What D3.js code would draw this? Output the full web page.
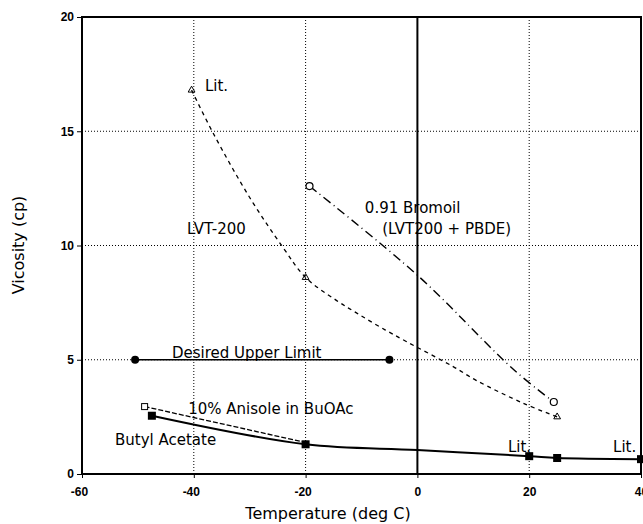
<!DOCTYPE html>
<html>
<head>
<meta charset="utf-8">
<script src="https://cdn.jsdelivr.net/npm/d3@7"></script>
<style>
  body { margin: 0; background: #fff; }
  text { font-family: "DejaVu Sans", sans-serif; fill: #000; }
</style>
</head>
<body>
<div id="graph1"></div>
<script>
// data
const xTicks = [-60, -40, -20, 0, 20, 40];
const yTicks = [0, 5, 10, 15, 20];

// LVT-200 curve
const lvtTemps = [-40.4, -36.5, -30, -24, -20, -14.5, -10.9, -6.8, -2, 6.4, 10.5, 18.9, 25];
const lvtVisc = [16.8, 14.9, 12.1, 9.9, 8.6, 7.6, 7.05, 6.45, 5.8, 4.7, 4.1, 3.1, 2.5];
const lvtMarkTemps = [-40.4, -20, 25];
const lvtMarkVisc = [16.8, 8.6, 2.5];

// 0.91 Bromoil
const bromoilTemps = [-19.3, 0, 17.3, 24.4];
const bromoilVisc = [12.6, 8.7, 4.55, 3.15];
const bromoilMarkTemps = [-19.3, 24.4];
const bromoilMarkVisc = [12.6, 3.15];

// Desired upper limit
const limitTemps = [-50.5, -5];
const limitVisc = [5, 5];

// Butyl acetate
const butylTemps = [-47.5, -20, 0, 20, 25, 40];
const butylVisc = [2.55, 1.3, 1.05, 0.78, 0.7, 0.65];
const butylMarkTemps = [-47.5, -20, 20, 25, 40];
const butylMarkVisc = [2.55, 1.3, 0.78, 0.7, 0.65];

// 10% anisole in BuOAc
const anisoleTemps = [-48.8, -20];
const anisoleVisc = [2.95, 1.38];

// text labels: [text, temp, visc]
const labels = [
    ["Lit.", -38.0, 16.76],
    ["LVT-200", -41.2, 10.5],
    ["0.91 Bromoil", -9.4, 11.42],
    ["(LVT200 + PBDE)", -6.3, 10.5],
    ["Desired Upper Limit", -43.9, 5.08],
    ["10% Anisole in BuOAc", -41.0, 2.63],
    ["Butyl Acetate", -54.1, 1.27],
    ["Lit.", 16.2, 0.96],
    ["Lit.", 35.0, 0.96]
];

const zip = (a, b) => a.map((v, i) => ({ t: v, v: b[i] }));

const svgWidth = 643;
const svgHeight = 524;

const svg = d3.select("#graph1")
    .append("svg")
    .attr("width", svgWidth)
    .attr("height", svgHeight);

const xScale = d3.scaleLinear().domain([-60, 40]).range([82, 641]);
const yScale = d3.scaleLinear().domain([0, 20]).range([474, 17]);

// dotted grid
svg.append("g").selectAll("line")
    .data([-40, -20, 20])
    .join("line")
    .attr("x1", d => xScale(d)).attr("x2", d => xScale(d))
    .attr("y1", yScale(20)).attr("y2", yScale(0))
    .attr("stroke", "#000").attr("stroke-width", 1)
    .attr("stroke-dasharray", "1,2");

svg.append("g").selectAll("line")
    .data([5, 10, 15])
    .join("line")
    .attr("x1", xScale(-60)).attr("x2", xScale(40))
    .attr("y1", d => yScale(d)).attr("y2", d => yScale(d))
    .attr("stroke", "#000").attr("stroke-width", 1)
    .attr("stroke-dasharray", "1,2");

// axes
const xAxis = d3.axisBottom(xScale).tickValues(xTicks).tickSize(4).tickFormat(d => String(d));
const yAxis = d3.axisLeft(yScale).tickValues(yTicks).tickSize(5).tickFormat(d => String(d));

const xAxisGroup = svg.append("g")
    .attr("transform", `translate(0, ${yScale(0)})`)
    .call(xAxis);
const yAxisGroup = svg.append("g")
    .attr("transform", `translate(${xScale(-60)}, 0)`)
    .call(yAxis);

[xAxisGroup, yAxisGroup].forEach(g => {
    g.select(".domain").remove();
    g.selectAll("text")
        .style("font-family", "\"Liberation Sans\", Arial, sans-serif")
        .style("font-size", "12px")
        .style("font-weight", "bold");
});
// minus sign hangs left of the digits
xAxisGroup.selectAll("text")
    .attr("dy", "1.25em")
    .attr("dx", d => d < 0 ? -3 : 0);

// frame + the solid line at 0 deg
svg.append("rect")
    .attr("x", xScale(-60)).attr("y", yScale(20))
    .attr("width", xScale(40) - xScale(-60))
    .attr("height", yScale(0) - yScale(20))
    .attr("fill", "none").attr("stroke", "#000").attr("stroke-width", 2);

svg.append("line")
    .attr("x1", xScale(0)).attr("x2", xScale(0))
    .attr("y1", yScale(20)).attr("y2", yScale(0))
    .attr("stroke", "#000").attr("stroke-width", 2);

// curves
const lineGen = d3.line()
    .x(d => xScale(d.t))
    .y(d => yScale(d.v))
    .curve(d3.curveCatmullRom);

function drawLine(data, dash, width) {
    svg.append("path")
        .datum(data)
        .attr("d", lineGen)
        .attr("fill", "none")
        .attr("stroke", "#000")
        .attr("stroke-width", width)
        .attr("stroke-dasharray", dash);
}

drawLine(zip(lvtTemps, lvtVisc), "4,4", 1.3);
drawLine(zip(bromoilTemps, bromoilVisc), "9,4,1,4", 1.4);
drawLine(zip(limitTemps, limitVisc), null, 1.5);
drawLine(zip(butylTemps, butylVisc), null, 2);
drawLine(zip(anisoleTemps, anisoleVisc), "5,2", 1.3);

// markers
svg.append("g").selectAll("path")
    .data(zip(lvtMarkTemps, lvtMarkVisc))
    .join("path")
    .attr("transform", d => `translate(${xScale(d.t)},${yScale(d.v)})`)
    .attr("d", d3.symbol(d3.symbolTriangle, 20))
    .attr("fill", "none").attr("stroke", "#000").attr("stroke-width", 1);

svg.append("g").selectAll("circle")
    .data(zip(bromoilMarkTemps, bromoilMarkVisc))
    .join("circle")
    .attr("cx", d => xScale(d.t)).attr("cy", d => yScale(d.v))
    .attr("r", 3.5)
    .attr("fill", "#fff").attr("stroke", "#000").attr("stroke-width", 1.2);

svg.append("g").selectAll("circle")
    .data(zip(limitTemps, limitVisc))
    .join("circle")
    .attr("cx", d => xScale(d.t)).attr("cy", d => yScale(d.v))
    .attr("r", 4)
    .attr("fill", "#000");

svg.append("g").selectAll("rect")
    .data(zip(butylMarkTemps, butylMarkVisc))
    .join("rect")
    .attr("x", d => xScale(d.t) - 4).attr("y", d => yScale(d.v) - 4)
    .attr("width", 8).attr("height", 8)
    .attr("fill", "#000");

svg.append("rect")
    .attr("x", xScale(anisoleTemps[0]) - 3).attr("y", yScale(anisoleVisc[0]) - 3)
    .attr("width", 6).attr("height", 6)
    .attr("fill", "#fff").attr("stroke", "#000").attr("stroke-width", 1);

// labels
svg.append("g").selectAll("text")
    .data(labels)
    .join("text")
    .attr("x", d => xScale(d[1]))
    .attr("y", d => yScale(d[2]))
    .style("font-size", "15px")
    .text(d => d[0]);

// axis titles
svg.append("text")
    .attr("x", 328).attr("y", 519)
    .attr("text-anchor", "middle")
    .style("font-size", "16px")
    .text("Temperature (deg C)");

svg.append("text")
    .attr("transform", "translate(24, 245) rotate(-90)")
    .attr("text-anchor", "middle")
    .style("font-size", "16px")
    .text("Vicosity (cp)");
</script>
</body>
</html>
